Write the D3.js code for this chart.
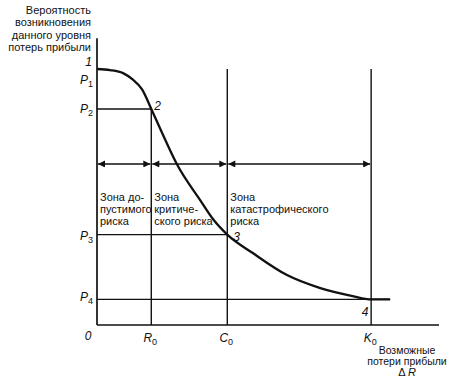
<!DOCTYPE html>
<html><head><meta charset="utf-8">
<script src="https://cdn.jsdelivr.net/npm/d3@7"></script>
<style>body{margin:0;background:#fff}svg{display:block}text{font-family:"Liberation Sans",Arial,sans-serif;fill:#111}</style>
</head><body>
<script>
// Data
const curveX = [0, 0.24, 0.48, 0.65, 0.83, 1.0, 1.2, 1.47, 1.9, 2.15, 2.4, 2.87, 3.5, 4.1, 4.71, 5.05, 5.4];
const curveY = [1.0, 0.996, 0.984, 0.96, 0.92, 0.844, 0.75, 0.629, 0.488, 0.41, 0.353, 0.281, 0.195, 0.145, 0.113, 0.10, 0.10];
const xTickLabels = ["R", "C", "K"];
const xTickValues = [1.0, 2.4, 5.05];
const pLabels = ["P1", "P2", "P3", "P4"];
const pValues = [0.955, 0.844, 0.353, 0.10];
const pointLabels = ["1", "2", "3", "4"];
const zoneLabels = [["Зона до-", "пустимого", "риска"], ["Зона", "критиче-", "ского риска"], ["Зона", "катастрофического", "риска"]];
const yTitle = ["Вероятность", "возникновения", "данного уровня", "потерь прибыли"];
const xTitle = ["Возможные", "потери прибыли"];

const W = 460, H = 381;
const svg = d3.select("body").append("svg").attr("width", W).attr("height", H);
const x = d3.scaleLinear().domain([0, 6.3]).range([97, 439]);
const y = d3.scaleLinear().domain([0, 1]).range([325, 69]);

const defs = svg.append("defs");
defs.append("marker").attr("id", "ah").attr("viewBox", "0 0 10 10").attr("refX", 10).attr("refY", 5)
  .attr("markerWidth", 9).attr("markerHeight", 7).attr("markerUnits", "userSpaceOnUse").attr("orient", "auto-start-reverse")
  .append("path").attr("d", "M0,0 L10,5 L0,10 Z").attr("fill", "#111");

const g = svg.append("g").attr("stroke", "#111").attr("fill", "none");
// axes
g.append("line").attr("x1", x(0)).attr("x2", x(0)).attr("y1", y(1.12)).attr("y2", y(0)).attr("stroke-width", 1.7);
g.append("line").attr("x1", x(0)).attr("x2", x(6.3)).attr("y1", y(0)).attr("y2", y(0)).attr("stroke-width", 1.7);

// verticals
g.append("line").attr("x1", x(xTickValues[0])).attr("x2", x(xTickValues[0])).attr("y1", y(pValues[1])).attr("y2", y(0)).attr("stroke-width", 1.4);
g.append("line").attr("x1", x(xTickValues[1])).attr("x2", x(xTickValues[1])).attr("y1", y(1.0)).attr("y2", y(0)).attr("stroke-width", 1.4);
g.append("line").attr("x1", x(xTickValues[2])).attr("x2", x(xTickValues[2])).attr("y1", y(1.0)).attr("y2", y(0)).attr("stroke-width", 1.4);
// horizontals
g.append("line").attr("x1", x(0)).attr("x2", x(xTickValues[0])).attr("y1", y(pValues[1])).attr("y2", y(pValues[1])).attr("stroke-width", 1.4);
g.append("line").attr("x1", x(0)).attr("x2", x(xTickValues[1])).attr("y1", y(pValues[2])).attr("y2", y(pValues[2])).attr("stroke-width", 1.4);
g.append("line").attr("x1", x(0)).attr("x2", x(curveX[curveX.length - 1])).attr("y1", y(pValues[3])).attr("y2", y(pValues[3])).attr("stroke-width", 1.4);

// arrows
const arrowY = y(0.629);
const bounds = [0].concat(xTickValues);
for (let i = 0; i < 3; i++) {
  g.append("line").attr("x1", x(bounds[i]) + 1).attr("x2", x(bounds[i + 1]) - 1).attr("y1", arrowY).attr("y2", arrowY)
    .attr("stroke-width", 1.4).attr("marker-start", "url(#ah)").attr("marker-end", "url(#ah)");
}

// curve
const pts = curveX.map((v, i) => [x(v), y(curveY[i])]);
g.append("path").attr("d", d3.line().curve(d3.curveMonotoneX)(pts)).attr("stroke-width", 2.3);

const t = svg.append("g").attr("font-size", 11);
// y title
yTitle.forEach((s, i) => t.append("text").attr("x", 91).attr("y", 14 + i * 12.3).attr("text-anchor", "end").text(s));
// x title
xTitle.forEach((s, i) => t.append("text").attr("x", 407).attr("y", 354 + i * 11).attr("text-anchor", "middle").attr("font-size", 10.5).text(s));
const dr = t.append("text").attr("x", 407).attr("y", 376).attr("text-anchor", "middle").attr("font-size", 11);
dr.append("tspan").text("Δ ");
dr.append("tspan").attr("font-style", "italic").text("R");

// zero
t.append("text").attr("x", 88).attr("y", 340).attr("text-anchor", "middle").attr("font-style", "italic").attr("font-size", 12).text("0");
// x ticks
xTickLabels.forEach((s, i) => {
  const tx = t.append("text").attr("x", x(xTickValues[i]) - 1).attr("y", 342).attr("text-anchor", "middle").attr("font-size", 12).attr("font-style", "italic");
  tx.append("tspan").text(s);
  tx.append("tspan").attr("dy", 3).attr("font-size", 9).attr("font-style", "normal").text("0");
});
// P labels
const pY = [y(pValues[0]) + 3, y(pValues[1]) + 4, y(pValues[2]) + 5, y(pValues[3]) + 2];
pLabels.forEach((s, i) => {
  const tx = t.append("text").attr("x", 80).attr("y", pY[i]).attr("font-size", 12).attr("font-style", "italic");
  tx.append("tspan").text("P");
  tx.append("tspan").attr("dy", 3).attr("font-size", 9).attr("font-style", "normal").text(s.slice(1));
});
// point labels
const plPos = [[x(0) - 5, y(1.0) - 3, "end"], [x(curveX[5]) + 3, y(curveY[5]) + 1, "start"], [x(curveX[10]) + 6, y(curveY[10]) + 6, "start"], [x(xTickValues[2]) - 6, y(pValues[3]) + 17, "middle"]];
pointLabels.forEach((s, i) => t.append("text").attr("x", plPos[i][0]).attr("y", plPos[i][1]).attr("text-anchor", plPos[i][2]).attr("font-size", 12).attr("font-style", "italic").text(s));
// zone labels
zoneLabels.forEach((lines, i) => {
  lines.forEach((s, j) => t.append("text").attr("x", x(bounds[i]) + 3).attr("y", 201 + j * 12).attr("font-size", 11).text(s));
});
</script>
</body></html>
